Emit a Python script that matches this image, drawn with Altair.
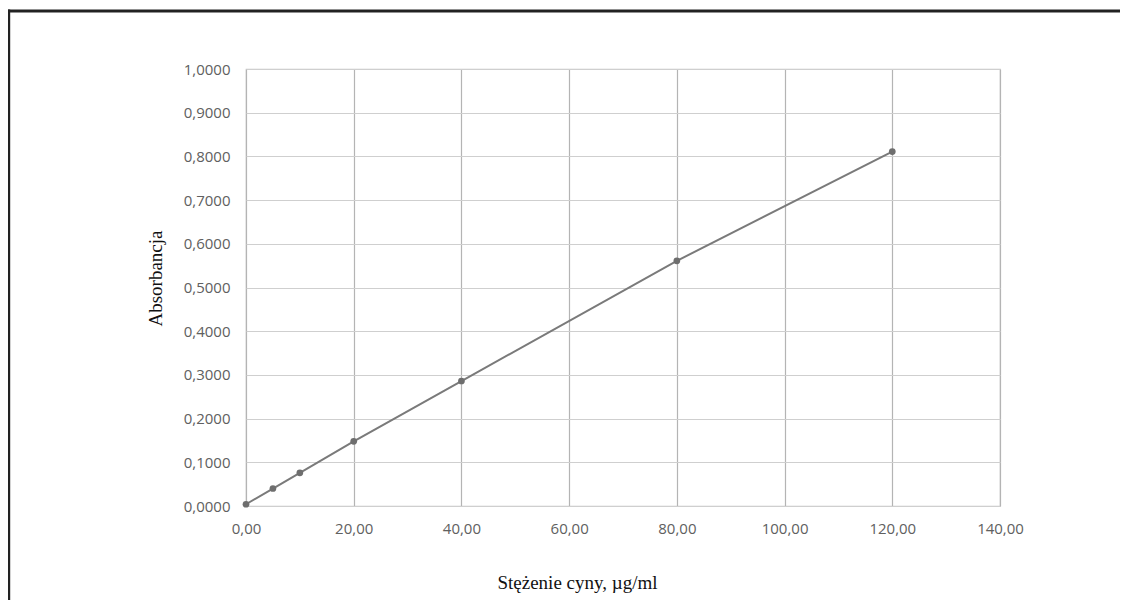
import altair as alt
import pandas as pd

# Data
conc = [0, 5, 10, 20, 40, 80, 120]
absorb = [0.004, 0.040, 0.076, 0.148, 0.286, 0.561, 0.811]
x_ticks = [0, 20, 40, 60, 80, 100, 120, 140]
y_ticks = [0.0, 0.1, 0.2, 0.3, 0.4, 0.5, 0.6, 0.7, 0.8, 0.9, 1.0]

df = pd.DataFrame({"c": conc, "a": absorb})

label_font = "Open Sans"
label_color = "#606060"
title_font = "Liberation Serif"

x_enc = alt.X(
    "c:Q",
    scale=alt.Scale(domain=[0, 140], nice=False),
    axis=alt.Axis(
        values=x_ticks,
        labelExpr="replace(format(datum.value, '.2f'), '.', ',')",
        grid=True, gridColor="#b4b4b4", gridWidth=1.2,
        domain=False, ticks=False,
        labelFont=label_font, labelFontSize=15, labelColor=label_color,
        labelPadding=15, labelBaseline="top", labelFlush=False, labelOverlap=False,
        title="Stężenie cyny, µg/ml",
        titleFont=title_font, titleFontSize=19, titleFontWeight="normal", titleColor="#111111",
        titleX=331, titleY=82, titleAlign="center", titleBaseline="alphabetic",
    ),
)
y_enc = alt.Y(
    "a:Q",
    scale=alt.Scale(domain=[0, 1], nice=False),
    axis=alt.Axis(
        values=y_ticks,
        labelExpr="replace(format(datum.value, '.4f'), '.', ',')",
        grid=True, gridColor="#cfcfcf", gridWidth=1.2,
        domain=False, ticks=False,
        labelFont=label_font, labelFontSize=15, labelColor=label_color,
        labelPadding=16, labelFlush=False, labelOverlap=False,
        title="Absorbancja",
        titleFont=title_font, titleFontSize=19, titleFontWeight="normal", titleColor="#111111",
        titleX=-91, titleY=209, titleAngle=-90, titleAlign="center", titleBaseline="middle",
    ),
)

base = alt.Chart(df)
line = base.mark_line(color="#7a7a7a", strokeWidth=2).encode(x=x_enc, y=y_enc)
pts = base.mark_circle(color="#6e6e6e", opacity=1, size=45).encode(x="c:Q", y="a:Q")

frame_df = pd.DataFrame({"k": [0]})
left_border = alt.Chart(frame_df).mark_rule(color="#222222", strokeWidth=3).encode(
    x=alt.value(-237.3), y=alt.value(-59.5), y2=alt.value(545)
)
top_border = alt.Chart(frame_df).mark_rule(color="#222222", strokeWidth=3).encode(
    x=alt.value(-238.8), x2=alt.value(890), y=alt.value(-58)
)

chart = alt.layer(line, pts, left_border, top_border).properties(
    width=754,
    height=437,
    autosize=alt.AutoSizeParams(type="none"),
    padding={"left": 238, "top": 61, "right": 120, "bottom": 94},
    background="white",
).configure_view(stroke="#c8c8c8", strokeWidth=1.2)

chart.save("out.html", embed_options={"renderer": "svg", "actions": False})
